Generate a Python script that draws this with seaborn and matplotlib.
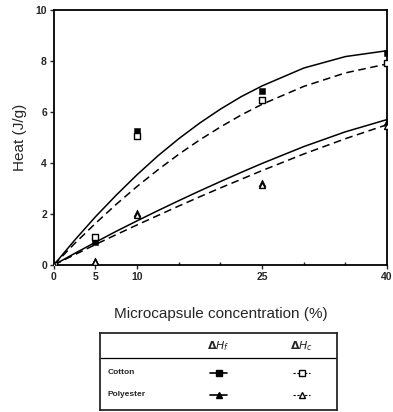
import numpy as np
import pandas as pd
import seaborn as sns
import matplotlib.pyplot as plt
from matplotlib.lines import Line2D

# measured points
conc = [0, 5, 10, 25, 40]
cotton_hf = [0, 0.9, 5.25, 6.8, 8.3]
cotton_hc = [0, 1.1, 5.05, 6.45, 7.9]
poly_hf = [0, 0.15, 2.05, 3.2, 5.6]
poly_hc = [0, 0.1, 1.95, 3.15, 5.45]

# fitted curves
curve_x = [0, 2.5, 5, 7.5, 10, 12.5, 15, 17.5, 20, 22.5, 25, 30, 35, 40]
cotton_hf_fit = [0, 0.97, 1.89, 2.74, 3.54, 4.28, 4.95, 5.56, 6.11, 6.6, 7.02, 7.72, 8.17, 8.4]
cotton_hc_fit = [0, 0.84, 1.63, 2.38, 3.08, 3.73, 4.34, 4.9, 5.41, 5.88, 6.3, 7.0, 7.53, 7.88]
poly_hf_fit = [0, 0.45, 0.89, 1.32, 1.73, 2.13, 2.52, 2.9, 3.27, 3.63, 3.98, 4.64, 5.22, 5.7]
poly_hc_fit = [0, 0.4, 0.8, 1.19, 1.57, 1.94, 2.31, 2.67, 3.02, 3.36, 3.7, 4.35, 4.95, 5.5]

x_ticks = [0, 5, 10, 25, 40]
y_ticks = [0, 2, 4, 6, 8, 10]

sns.set_style("ticks")
plt.rcParams['font.family'] = ['Liberation Sans', 'DejaVu Sans']

fig = plt.figure(figsize=(3.93, 4.12), dpi=100)
ax = fig.add_axes([0.137, 0.357, 0.848, 0.619])

dash = (0, (5, 3))
for fit, ls in [(cotton_hf_fit, '-'), (cotton_hc_fit, dash),
                (poly_hf_fit, '-'), (poly_hc_fit, dash)]:
    sns.lineplot(x=curve_x, y=fit, ax=ax, color='black', lw=1.1, linestyle=ls)

sns.scatterplot(x=conc, y=cotton_hf, ax=ax, marker='s', s=22, color='black', edgecolor='black', zorder=5)
sns.scatterplot(x=conc, y=cotton_hc, ax=ax, marker='s', s=20, facecolor='white', edgecolor='black', linewidth=1, zorder=6)
sns.scatterplot(x=conc, y=poly_hf, ax=ax, marker='^', s=26, color='black', edgecolor='black', zorder=5)
sns.scatterplot(x=conc, y=poly_hc, ax=ax, marker='^', s=18, facecolor='white', edgecolor='black', linewidth=1, zorder=6)

ax.set_xlim(0, 40)
ax.set_ylim(0, 10)
ax.set_xticks(x_ticks)
ax.set_xticklabels([str(v) for v in x_ticks], fontsize=7.5, fontweight='bold')
ax.set_xticks([15, 20, 30, 35], minor=True)
ax.set_yticks(y_ticks)
ax.set_yticklabels([str(v) for v in y_ticks], fontsize=7.5, fontweight='bold')
ax.tick_params(axis='both', which='major', length=3, width=1, direction='out', pad=2)
ax.tick_params(axis='x', which='minor', length=2, width=1, direction='in')
for sp in ax.spines.values():
    sp.set_linewidth(1.3)
    sp.set_color('black')
ax.set_ylabel('Heat (J/g)', fontsize=11, labelpad=6)
ax.set_xlabel('Microcapsule concentration (%)', fontsize=11, labelpad=18)

# legend table
lax = fig.add_axes([0.255, 0.005, 0.603, 0.187])
lax.set_xlim(0, 1)
lax.set_ylim(0, 1)
lax.set_xticks([])
lax.set_yticks([])
for sp in lax.spines.values():
    sp.set_linewidth(1.3)
lax.axhline(0.68, color='black', lw=0.9)
lax.text(0.5, 0.83, r'$\mathbf{\Delta}\boldsymbol{H_f}$', ha='center', va='center', fontsize=8)
lax.text(0.85, 0.83, r'$\mathbf{\Delta}\boldsymbol{H_c}$', ha='center', va='center', fontsize=8)
lax.text(0.03, 0.48, 'Cotton', ha='left', va='center', fontsize=6, fontweight='bold')
lax.text(0.03, 0.2, 'Polyester', ha='left', va='center', fontsize=6, fontweight='bold')
for yy, mk in [(0.48, 's'), (0.2, '^')]:
    lax.add_line(Line2D([0.465, 0.5, 0.535], [yy] * 3, color='black', lw=1.2, marker=mk,
                        markevery=[1], markersize=5, markerfacecolor='black', markeredgecolor='black'))
    lax.add_line(Line2D([0.815, 0.85, 0.885], [yy] * 3, color='black', lw=0.8, linestyle=(0, (2, 1.5)),
                        marker=mk, markevery=[1], markersize=4.5, markerfacecolor='white', markeredgecolor='black'))

fig.savefig('out.png', dpi=100)
